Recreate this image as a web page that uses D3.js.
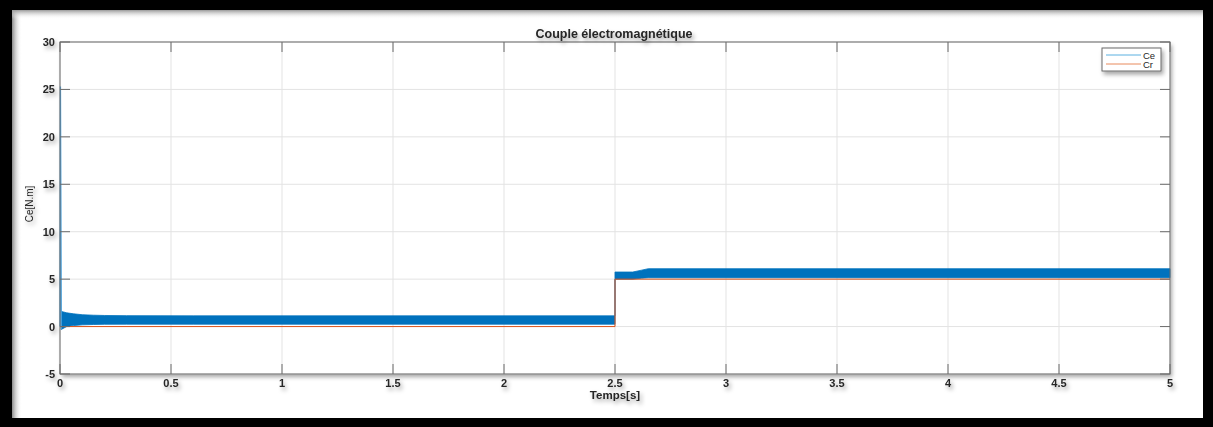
<!DOCTYPE html>
<html>
<head>
<meta charset="utf-8">
<script src="https://cdn.jsdelivr.net/npm/d3@7"></script>
<style>
  html, body { margin: 0; padding: 0; background: #000; }
  svg { display: block; }
  text { font-family: "Liberation Sans", Arial, sans-serif; }
</style>
</head>
<body>
<svg id="chart" width="1213" height="427"></svg>
<script>
// Start-up transient of the electromagnetic torque
const spikeTime = [0, 0.002, 0.006];
const spikeValue = [0, 25.3, -0.3];

// High-frequency ripple of Ce, described by its upper and lower envelope
const envTime = [0.006, 0.03, 0.06, 0.1, 0.15, 0.2, 0.3, 0.6, 1.0, 1.5, 2.0, 2.5, 2.5, 2.58, 2.62, 2.65, 3.0, 4.0, 5.0];
const envMax  = [1.6, 1.45, 1.35, 1.25, 1.2, 1.17, 1.15, 1.13, 1.13, 1.13, 1.13, 1.13, 5.75, 5.75, 5.95, 6.1, 6.1, 6.1, 6.1];
const envMin  = [-0.3, 0.0, 0.1, 0.18, 0.22, 0.24, 0.25, 0.25, 0.25, 0.25, 0.25, 0.25, 5.0, 5.0, 5.1, 5.15, 5.15, 5.15, 5.15];

// Load torque reference Cr
const crTime  = [0, 2.5, 2.5, 5];
const crValue = [0, 0, 5, 5];

const xTicks = [0, 0.5, 1, 1.5, 2, 2.5, 3, 3.5, 4, 4.5, 5];
const yTicks = [-5, 0, 5, 10, 15, 20, 25, 30];
const seriesNames = ["Ce", "Cr"];
const colors = { Ce: "#0072BD", Cr: "#D95319" };

const svg = d3.select("#chart");
const W = 1213, H = 427;

const defs = svg.append("defs");
const sh = defs.append("filter").attr("id", "shadow")
  .attr("x", "-20%").attr("y", "-40%").attr("width", "160%").attr("height", "200%");
sh.append("feDropShadow").attr("dx", 2).attr("dy", 3).attr("stdDeviation", 2)
  .attr("flood-color", "#000").attr("flood-opacity", 0.35);

const gLeft = defs.append("linearGradient").attr("id", "edgeLeft").attr("x1", 0).attr("x2", 1).attr("y1", 0).attr("y2", 0);
gLeft.append("stop").attr("offset", 0).attr("stop-color", "#8a8a8a");
gLeft.append("stop").attr("offset", 1).attr("stop-color", "#fff").attr("stop-opacity", 0);
const gTop = defs.append("linearGradient").attr("id", "edgeTop").attr("x1", 0).attr("x2", 0).attr("y1", 0).attr("y2", 1);
gTop.append("stop").attr("offset", 0).attr("stop-color", "#9a9a9a");
gTop.append("stop").attr("offset", 1).attr("stop-color", "#fff").attr("stop-opacity", 0);

// Black frame and white page with soft shading along the top-left edges
svg.append("rect").attr("width", W).attr("height", H).attr("fill", "#000");
svg.append("rect").attr("x", 12).attr("y", 10).attr("width", 1191).attr("height", 408).attr("fill", "#fff");
svg.append("rect").attr("x", 12).attr("y", 10).attr("width", 10).attr("height", 408).attr("fill", "url(#edgeLeft)");
svg.append("rect").attr("x", 12).attr("y", 10).attr("width", 1191).attr("height", 9).attr("fill", "url(#edgeTop)");

const m = { left: 60, right: 1170, top: 42, bottom: 374 };
const x = d3.scaleLinear().domain([0, 5]).range([m.left, m.right]);
const y = d3.scaleLinear().domain([-5, 30]).range([m.bottom, m.top]);

// Axes box with shadow
svg.append("rect").attr("x", m.left).attr("y", m.top)
  .attr("width", m.right - m.left).attr("height", m.bottom - m.top)
  .attr("fill", "#fff").attr("filter", "url(#shadow)");

// Grid
const grid = svg.append("g");
grid.selectAll(".gx").data(xTicks).join("line")
  .attr("x1", d => x(d)).attr("x2", d => x(d)).attr("y1", m.top).attr("y2", m.bottom)
  .attr("stroke", "#e3e3e3").attr("stroke-width", 1);
grid.selectAll(".gy").data(yTicks).join("line")
  .attr("x1", m.left).attr("x2", m.right).attr("y1", d => y(d)).attr("y2", d => y(d))
  .attr("stroke", "#e3e3e3").attr("stroke-width", 1);

// Ce ripple band
const band = d3.area()
  .x((d, i) => x(envTime[i]))
  .y0((d, i) => y(envMin[i]))
  .y1((d, i) => y(envMax[i]));
svg.append("path").datum(envTime).attr("d", band)
  .attr("fill", colors.Ce).attr("stroke", colors.Ce).attr("stroke-width", 0.8);

// Ce start-up spike
const line = d3.line();
svg.append("path")
  .datum(spikeTime.map((t, i) => [x(t), y(spikeValue[i])]))
  .attr("d", line).attr("fill", "none").attr("stroke", "#4a9fd8").attr("stroke-width", 1.3);

// Cr
svg.append("path")
  .datum(crTime.map((t, i) => [x(t), y(crValue[i])]))
  .attr("d", line).attr("fill", "none").attr("stroke", colors.Cr).attr("stroke-width", 1);

// Axes box outline and ticks
svg.append("rect").attr("x", m.left).attr("y", m.top)
  .attr("width", m.right - m.left).attr("height", m.bottom - m.top)
  .attr("fill", "none").attr("stroke", "#6b6b6b").attr("stroke-width", 1);

const tickLen = 10;
const ticks = svg.append("g").attr("stroke", "#6b6b6b").attr("stroke-width", 1);
xTicks.forEach(t => {
  ticks.append("line").attr("x1", x(t)).attr("x2", x(t)).attr("y1", m.bottom).attr("y2", m.bottom - tickLen);
  ticks.append("line").attr("x1", x(t)).attr("x2", x(t)).attr("y1", m.top).attr("y2", m.top + tickLen);
});
yTicks.forEach(t => {
  ticks.append("line").attr("x1", m.left).attr("x2", m.left + tickLen).attr("y1", y(t)).attr("y2", y(t));
  ticks.append("line").attr("x1", m.right).attr("x2", m.right - tickLen).attr("y1", y(t)).attr("y2", y(t));
});

const labels = svg.append("g").attr("filter", "url(#shadow)")
  .attr("font-weight", "bold").attr("fill", "#262626").attr("font-size", 11);
labels.selectAll(".xl").data(xTicks).join("text")
  .attr("x", d => x(d)).attr("y", 387).attr("text-anchor", "middle")
  .text(d => d3.format("")(d));
labels.selectAll(".yl").data(yTicks).join("text")
  .attr("x", m.left - 5).attr("y", d => y(d) + 4).attr("text-anchor", "end")
  .text(d => d);

// Titles
labels.append("text").attr("x", 614).attr("y", 38)
  .attr("text-anchor", "middle").attr("font-size", 12.5).text("Couple électromagnétique");
labels.append("text").attr("x", 615).attr("y", 399)
  .attr("text-anchor", "middle").attr("font-size", 11.5).text("Temps[s]");
labels.append("text").attr("transform", "translate(33,204) rotate(-90)")
  .attr("text-anchor", "middle").attr("font-weight", "normal").attr("font-size", 10)
  .text("Ce[N.m]");

// Legend
const lg = svg.append("g").attr("transform", "translate(1102,48)");
lg.append("rect").attr("width", 59).attr("height", 23).attr("fill", "#fff")
  .attr("stroke", "#6b6b6b").attr("stroke-width", 1).attr("filter", "url(#shadow)");
const legendColors = { Ce: "#5ab0e0", Cr: "#e88a5c" };
seriesNames.forEach((name, i) => {
  const yy = 7 + i * 9;
  lg.append("line").attr("x1", 4).attr("x2", 39).attr("y1", yy).attr("y2", yy)
    .attr("stroke", legendColors[name]).attr("stroke-width", 1);
  lg.append("text").attr("x", 41).attr("y", yy + 3.5).attr("font-size", 9.5)
    .attr("fill", "#262626").text(name);
});
</script>
</body>
</html>
